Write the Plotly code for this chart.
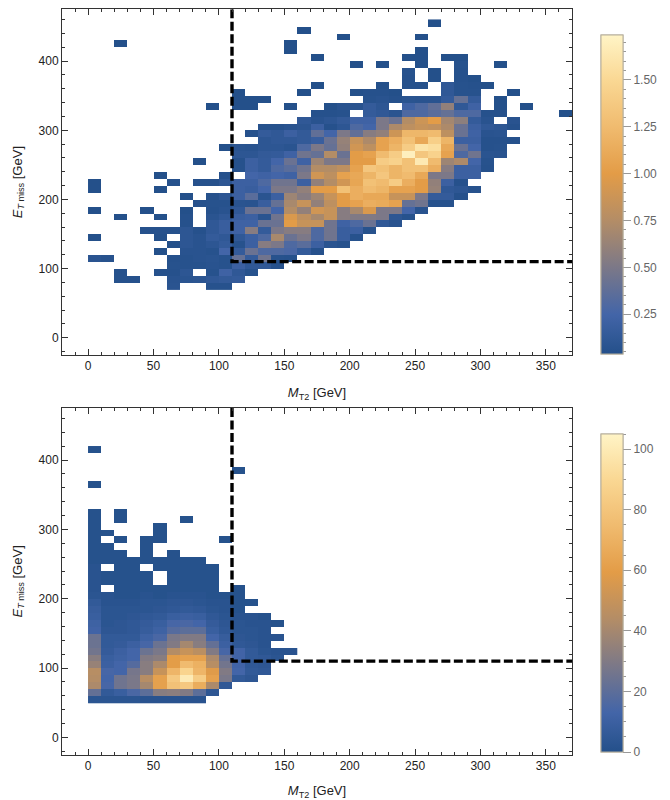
import plotly.graph_objects as go

# Bin width (GeV) on both axes
bin_width = 10

# y-bin lower edge: (x-bin lower edge of the first value, values); 0 = empty bin
top_rows = {
    70: (60, [.08, 0, 0, .06, .06]),
    80: (20, [.05, .05, 0, 0, .07, .08, .09, .12, .14, .15]),
    90: (20, [.05, 0, 0, .05, .05, .1, 0, .06, .22, .12, .06]),
    100: (60, [.06, .06, .06, .07, .06, .2, .12, .12, .05]),
    110: (0, [.08, .06, 0, 0, 0, 0, .05, .06, .07, .08, .06, .4, .15, .45, .06, .05]),
    120: (50, [.04, 0, .07, .07, .06, .25, .15, .42, .3, .3, .28, .15, .05]),
    130: (60, [.04, .1, .07, .1, .15, .06, .2, .55, .5, .3, .35, .2, .08, .06]),
    140: (0, [.04, 0, 0, 0, 0, .04, 0, .1, .07, .15, .12, .12, .2, .3, .7, .42, .5, .3, .45, .18, .06]),
    150: (40, [.05, .05, .05, .1, .05, .12, .18, .22, .55, .15, .5, .55, .55, .3, .45, .18, .2, .06]),
    160: (70, [.05, 0, .12, .18, .22, .22, .42, .42, 1.0, .85, .85, .45, .22, .3, .42, .12, .07]),
    170: (20, [.04, 0, 0, .04, 0, .05, 0, .08, .12, .18, .2, .08, .45, .95, .8, .7, .85, .55, .52, .52, .5, .1, .06]),
    180: (0, [.04, 0, 0, 0, .04, 0, 0, .04, 0, .05, .07, .12, .42, .42, .25, .75, .6, .9, .85, .55, .7, .95, .5, .5, .25, .07]),
    190: (80, [.05, .06, .06, .08, .07, .18, .4, .7, .85, .6, .8, 1.0, 1.05, 1.15, 1.12, 1.05, .4, .45, .06, .06]),
    200: (70, [.04, 0, .05, .1, .2, .35, .08, .2, .65, .55, .65, .85, 1.0, 1.15, 1.1, 1.1, .85, .85, .5, .15, .15, .05]),
    210: (0, [.04, 0, 0, 0, 0, .04, 0, 0, 0, 0, 0, .2, .18, .25, .5, .5, .6, 1.0, 1.0, 1.3, 1.15, 1.25, 1.2, 1.05, 1.05, 1.0, .62, .12, .1, .06]),
    220: (0, [.04, 0, 0, 0, 0, 0, .05, 0, .05, .05, .1, .2, .2, .3, .45, .45, .2, .6, .75, .9, 1.08, 1.3, 1.25, 1.4, 1.15, 1.0, .6, .2, .05]),
    230: (50, [.04, 0, 0, 0, 0, .05, 0, .25, .22, .25, .22, .5, .9, .8, 1.05, 1.1, 1.2, 1.35, 1.2, 1.25, 1.1, .5, .5, .2, .2]),
    240: (110, [.05, .2, .15, .3, .35, .45, .75, .75, .8, 1.05, 1.35, 1.3, 1.2, 1.3, 1.3, 1.15, .55, .2, .2, .05]),
    250: (80, [.04, 0, 0, .05, .2, .15, .25, .42, .22, .65, .5, .5, 1.0, 1.0, 1.4, 1.45, 1.3, 1.65, 1.25, .65, .72, .25, .06]),
    260: (110, [.1, .1, .14, .15, .22, .45, .4, .75, .42, 1.0, 1.05, 1.25, 1.4, 1.7, 1.35, 1.45, 1.05, .3, .45, .08, .07]),
    270: (100, [.04, .08, .07, .1, .1, .08, .3, .5, .4, .6, .9, .8, 1.05, 1.2, 1.4, 1.6, 1.55, 1.1, .42, .25, .05, .06]),
    280: (130, [.1, .12, .12, .14, .18, .42, .62, .85, .72, 1.05, 1.15, 1.3, 1.1, 1.42, 1.2, .2, .2, .05, .05, .05]),
    290: (120, [.05, .15, .12, .2, .14, .38, .25, .5, .38, .55, .6, .88, 1.22, 1.22, 1.25, .8, .42, .22, .07, .08]),
    300: (130, [.05, .05, .07, .09, .2, .05, .1, .3, .25, .5, .72, .8, .85, .82, .72, .42, .2, .12, .1, .05]),
    310: (160, [.12, .07, .1, .14, .22, .22, .5, .42, .75, .88, 1.0, .68, .58, .15, .07, 0, .07]),
    320: (170, [.05, .05, .06, 0, .15, .12, .08, .3, .3, .35, .4, .3, .3, .05, .05, 0, 0, 0, 0, .04]),
    330: (90, [.04, 0, .04, .04, 0, 0, .04, 0, 0, .04, .07, .07, .15, .1, 0, .22, .3, .38, .6, .12, .22, 0, .04, 0, .04]),
    340: (110, [.04, .04, .04, 0, 0, 0, 0, 0, 0, 0, .06, .07, .05, .08, .07, .07, .15, .4, .15, 0, .04]),
    350: (110, [.04, 0, 0, 0, 0, .04, 0, 0, 0, .04, .05, .05, .04, 0, 0, 0, .12, .06, .06, 0, 0, .04]),
    360: (170, [.04, 0, 0, 0, 0, .04, 0, .05, .05, 0, .12, .06, .05, .04]),
    370: (240, [.05, 0, .04, 0, .05, .04]),
    380: (240, [.06, 0, .04, 0, .05]),
    390: (200, [.04, 0, .04, 0, 0, .04, 0, 0, .06, 0, 0, .04]),
    400: (170, [.04, 0, 0, 0, 0, 0, 0, .04, .04, 0, .04, .04]),
    410: (150, [.04, 0, 0, 0, 0, 0, 0, 0, 0, 0, .04]),
    420: (20, [.04, 0, 0, 0, 0, 0, 0, 0, 0, 0, 0, 0, 0, .04]),
    430: (190, [.04, 0, 0, 0, 0, 0, .04]),
    440: (160, [.04]),
    450: (260, [.04]),
}

bottom_rows = {
    50: (0, [3, 3, 3, 3, 2, 2, 2, 2, 2]),
    60: (0, [22, 6, 9, 15, 20, 32, 33, 30, 20, 4]),
    70: (0, [42, 14, 25, 28, 40, 62, 78, 82, 68, 42, 5]),
    80: (0, [44, 13, 25, 28, 45, 62, 82, 100, 84, 62, 28, 6, 4]),
    90: (0, [45, 14, 13, 27, 32, 50, 72, 88, 72, 58, 30, 13, 6, 5]),
    100: (0, [36, 10, 13, 18, 32, 42, 60, 75, 70, 45, 26, 12, 5, 4]),
    110: (0, [32, 9, 11, 13, 30, 32, 60, 62, 62, 42, 22, 12, 6, 5, 3]),
    120: (0, [26, 7, 10, 13, 24, 28, 44, 50, 46, 30, 14, 12, 6, 3, 2, 2]),
    130: (0, [24, 6, 7, 10, 14, 24, 30, 40, 32, 22, 10, 5, 4, 2]),
    140: (0, [24, 6, 6, 6, 11, 15, 28, 30, 30, 13, 8, 4, 3, 2, 2]),
    150: (0, [12, 4, 4, 5, 8, 11, 18, 20, 20, 9, 5, 3, 3, 2]),
    160: (0, [11, 3, 4, 5, 7, 9, 14, 15, 13, 7, 4, 3, 2, 2, 1]),
    170: (0, [9, 3, 3, 4, 5, 6, 9, 10, 9, 5, 3, 2, 2, 1]),
    180: (0, [8, 3, 3, 3, 3, 4, 5, 6, 5, 3, 2, 1]),
    190: (0, [6, 2, 2, 2, 3, 3, 4, 4, 3, 2, 2, 1, 1]),
    200: (0, [3, 2, 1, 1, 2, 1, 2, 2, 2, 1, 1, 1]),
    210: (0, [2, 0, 1, 1, 1, 1, 1, 1, 1, 1, 0, 1]),
    220: (0, [2, 1, 1, 1, 1, 0, 1, 1, 1, 1]),
    230: (0, [2, 1, 1, 1, 1, 0, 1, 1, 1, 1]),
    240: (0, [2, 0, 1, 1, 0, 1, 1, 1, 1, 1]),
    250: (0, [1, 1, 1, 1, 1, 1, 1, 1, 1]),
    260: (0, [1, 1, 1, 0, 1, 0, 1]),
    270: (0, [1, 1, 0, 0, 1]),
    280: (0, [1, 0, 1, 0, 1, 1, 0, 0, 0, 0, 1]),
    290: (0, [1, 1, 0, 0, 0, 1]),
    300: (0, [1, 0, 0, 0, 0, 1]),
    310: (0, [1, 0, 1, 0, 0, 0, 0, 1]),
    320: (0, [1, 0, 1]),
    360: (0, [1]),
    380: (110, [1]),
    410: (0, [1]),
}

# Signal-region boundary (GeV)
cut_x = [110, 110, 371]
cut_y = [475, 110, 110]

x_range = [-20, 370]
y_range = [-25, 475]
top_zrange = [0.038, 1.74]
bottom_zrange = [0, 105]

top_major = [0.25, 0.5, 0.75, 1.0, 1.25, 1.5]
top_major_text = ["0.25", "0.50", "0.75", "1.00", "1.25", "1.50"]
top_minor = [0.05, 0.1, 0.15, 0.2, 0.3, 0.35, 0.4, 0.45, 0.55, 0.6, 0.65, 0.7, 0.8, 0.85,
             0.9, 0.95, 1.05, 1.1, 1.15, 1.2, 1.3, 1.35, 1.4, 1.45, 1.55, 1.6, 1.65, 1.7]
bottom_major = [0, 20, 40, 60, 80, 100]
bottom_minor = [5, 10, 15, 25, 30, 35, 45, 50, 55, 65, 70, 75, 85, 90, 95, 105]

gradient = [
    [0.0, "#24508a"], [0.124, "#4365a8"], [0.27, "#7b7888"], [0.42, "#b48d66"],
    [0.566, "#e39c47"], [0.713, "#f0bb6f"], [0.86, "#fad894"], [1.0, "#fff4c6"],
]

FONT = "Liberation Sans, Arial, sans-serif"
W, H = 670, 800


def grid(rows):
    y_low = sorted(rows)
    y_low = list(range(y_low[0], y_low[-1] + bin_width, bin_width))
    x_top = max(x0 + bin_width * len(v) for x0, v in rows.values())
    x_edges = list(range(0, x_top + bin_width, bin_width))
    z = [[None] * (len(x_edges) - 1) for _ in y_low]
    for y0, (x0, vals) in rows.items():
        r = z[(y0 - y_low[0]) // bin_width]
        for k, v in enumerate(vals):
            if v:
                r[x0 // bin_width + k] = v
    y_edges = y_low + [y_low[-1] + bin_width]
    return x_edges, y_edges, z


def pv(px):
    return 1 - px / H


def bar(tvals, ttext, top, bottom, ticklen, labels):
    return dict(
        x=601 / W, xanchor="left", xref="paper", y=pv(bottom), yanchor="bottom", yref="paper",
        len=(bottom - top) / H, lenmode="fraction", thickness=22, thicknessmode="pixels",
        xpad=0, ypad=0, outlinecolor="#b5ae9c", outlinewidth=1,
        ticks="outside", ticklen=ticklen, tickwidth=1, tickcolor="#999999",
        tickmode="array", tickvals=tvals, ticktext=ttext, showticklabels=labels,
        tickfont=dict(family=FONT, size=12, color="#666666"),
    )


fig = go.Figure()
panels = [
    (top_rows, top_zrange, "x", "y", top_major, top_major_text, top_minor, 35, 354),
    (bottom_rows, bottom_zrange, "x2", "y2", bottom_major, [str(v) for v in bottom_major],
     bottom_minor, 434, 752),
]
for rows, zr, xa, ya, major, mtext, minor, t, b in panels:
    xe, ye, z = grid(rows)
    for tv, tt, tl, lab in ((minor, [""] * len(minor), 3, False), (major, mtext, 8, True)):
        fig.add_trace(go.Heatmap(
            x=xe, y=ye, z=z, xaxis=xa, yaxis=ya, zmin=zr[0], zmax=zr[1],
            colorscale=gradient, hoverongaps=False, xgap=0, ygap=0,
            colorbar=bar(tv, tt, t, b, tl, lab),
        ))
    fig.add_trace(go.Scatter(
        x=cut_x, y=cut_y, xaxis=xa, yaxis=ya, mode="lines", showlegend=False,
        cliponaxis=False, line=dict(color="black", width=3.4, dash="9px,3.5px"),
    ))

axis_common = dict(
    showgrid=False, zeroline=False, showline=True, linecolor="#333333", linewidth=1,
    mirror="allticks", ticks="inside", ticklen=6, tickwidth=1, tickcolor="#333333",
    tickfont=dict(family=FONT, size=12, color="#222222"), tick0=0,
)
xtitle = "<i>M</i><sub>T2</sub> [GeV]"
ytitle = "<i>E</i><sub><i>T</i> miss</sub> [GeV]"
xdom = [62 / W, 572 / W]


def xaxis(anchor):
    return dict(axis_common, domain=xdom, range=x_range, dtick=50, anchor=anchor,
                minor=dict(dtick=10, ticks="inside", ticklen=3, tickwidth=1, tickcolor="#333333"),
                title=dict(text=xtitle, font=dict(family=FONT, size=13, color="#222222"), standoff=15))


def yaxis(anchor, dom):
    return dict(axis_common, domain=dom, range=y_range, dtick=100, anchor=anchor,
                minor=dict(dtick=20, ticks="inside", ticklen=3, tickwidth=1, tickcolor="#333333"),
                title=dict(text=ytitle, font=dict(family=FONT, size=13, color="#222222"), standoff=13))


fig.update_layout(
    width=W, height=H, margin=dict(l=0, r=0, t=0, b=0), autosize=False,
    paper_bgcolor="white", plot_bgcolor="white", showlegend=False,
    font=dict(family=FONT),
    xaxis=xaxis("y"),
    yaxis=yaxis("x", [pv(355), pv(9.3)]),
    xaxis2=xaxis("y2"),
    yaxis2=yaxis("x2", [pv(754.8), pv(408)]),
)

fig.write_html("out.html", post_script="document.body.style.margin='0';",
               config={"displayModeBar": False})
